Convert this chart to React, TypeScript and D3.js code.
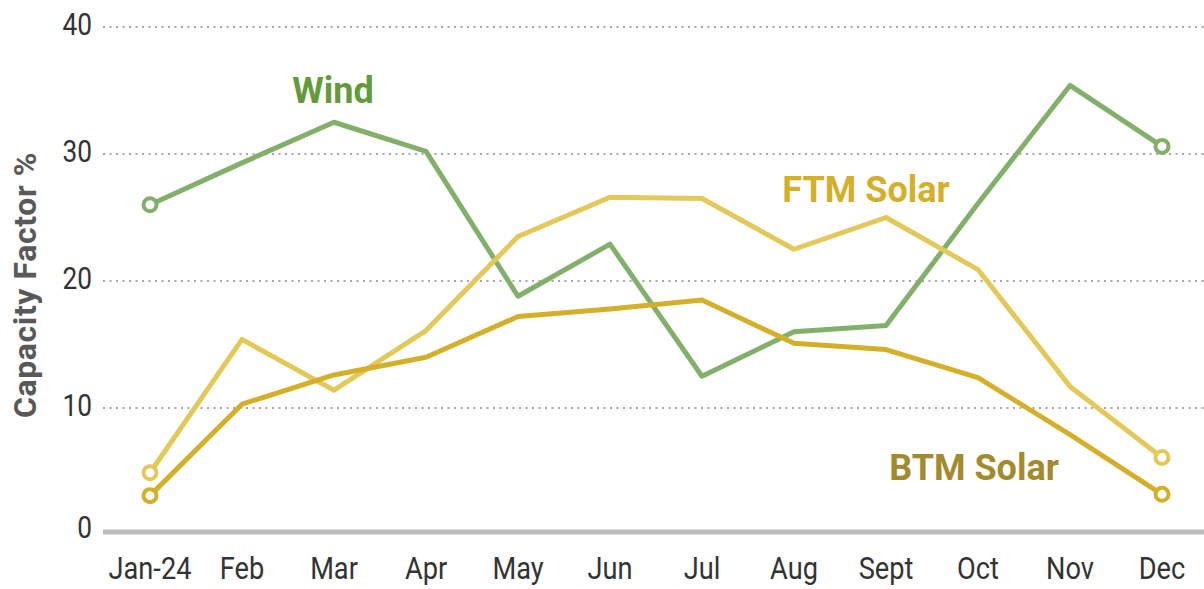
import * as d3 from 'd3';

const months = ['Jan-24', 'Feb', 'Mar', 'Apr', 'May', 'Jun', 'Jul', 'Aug', 'Sept', 'Oct', 'Nov', 'Dec'];
const wind = [26.0, 29.3, 32.5, 30.2, 18.8, 22.9, 12.5, 16.0, 16.5, 26.1, 35.4, 30.6];
const ftmSolar = [4.9, 15.4, 11.4, 16.1, 23.5, 26.6, 26.5, 22.5, 25.0, 20.9, 11.7, 6.1];
const btmSolar = [3.1, 10.3, 12.6, 14.0, 17.2, 17.8, 18.5, 15.1, 14.6, 12.4, 7.9, 3.2];
const yTicks = [0, 10, 20, 30, 40];

const W = 1204;
const H = 589;

const series = [
  { name: 'Wind', values: wind, line: '#82b06b', text: '#639a3b', label: [333, 103] },
  { name: 'FTM Solar', values: ftmSolar, line: '#e3c95a', text: '#d4af2a', label: [866, 202] },
  { name: 'BTM Solar', values: btmSolar, line: '#d4b02a', text: '#a38a2c', label: [974, 480] },
];

export default function App() {
  const x = d3.scalePoint<string>().domain(months).range([150, 1162]);
  const y = d3.scaleLinear().domain([0, 40]).range([535, 27]);

  const line = d3
    .line<number>()
    .x((_, i) => x(months[i]) as number)
    .y((d) => y(d));

  const condensed = 'Roboto, "Liberation Sans", sans-serif';

  return (
    <svg width={W} height={H} style={{ position: 'absolute', left: 0, top: 0, background: '#fff' }}>
      {/* gridlines */}
      {yTicks.filter((t) => t > 0).map((t) => (
        <line
          key={t}
          x1={103}
          x2={W}
          y1={y(t)}
          y2={y(t)}
          stroke="#a6a6a6"
          strokeWidth={2}
          strokeDasharray="2 4.5"
        />
      ))}
      {/* x axis line */}
      <line x1={103} x2={W} y1={y(0) - 3} y2={y(0) - 3} stroke="#bcbcbc" strokeWidth={5} />

      {/* y tick labels */}
      {yTicks.map((t) => (
        <text
          key={t}
          transform={`translate(92, ${y(t) + (t === 0 ? 3 : 8)}) scale(0.82, 1)`}
          textAnchor="end"
          fontFamily={condensed}
          fontSize={32}
          fill="#333"
        >
          {t}
        </text>
      ))}

      {/* x tick labels */}
      {months.map((m) => (
        <text
          key={m}
          transform={`translate(${x(m)}, 579) scale(0.85, 1)`}
          textAnchor="middle"
          fontFamily={condensed}
          fontSize={32}
          fill="#333"
        >
          {m}
        </text>
      ))}

      {/* y axis title */}
      <text
        transform="translate(36, 285) rotate(-90)"
        textAnchor="middle"
        fontFamily="Roboto, sans-serif"
        fontWeight="bold"
        fontSize={32}
        letterSpacing={0.6}
        fill="#595959"
      >
        Capacity Factor %
      </text>

      {series.map((s) => (
        <g key={s.name}>
          <path d={line(s.values) ?? ''} fill="none" stroke={s.line} strokeWidth={5} strokeLinejoin="round" />
          {[0, s.values.length - 1].map((i) => (
            <circle
              key={i}
              cx={x(months[i])}
              cy={y(s.values[i])}
              r={6.5}
              fill="#fff"
              stroke={s.line}
              strokeWidth={4}
            />
          ))}
          <text
            x={s.label[0]}
            y={s.label[1]}
            textAnchor="middle"
            fontFamily="Roboto, sans-serif"
            fontWeight="bold"
            fontSize={36}
            fill={s.text}
          >
            {s.name}
          </text>
        </g>
      ))}
    </svg>
  );
}
